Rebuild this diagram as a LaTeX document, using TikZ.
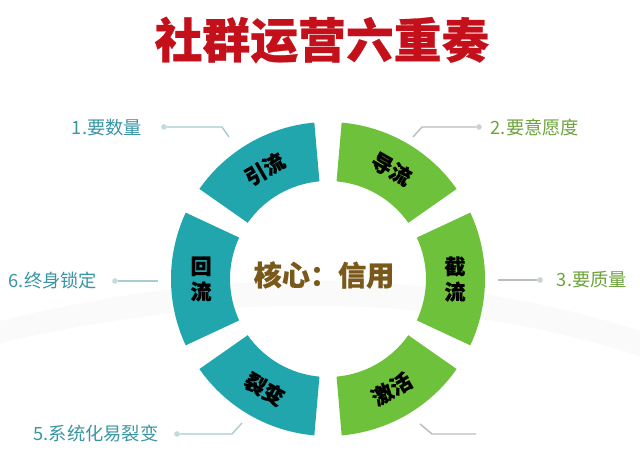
\documentclass[tikz,border=0pt]{standalone}
\usepackage{fontspec}
\setmainfont{Noto Sans CJK SC}[BoldFeatures={FakeBold=0.6}]
\usetikzlibrary{calc}
\definecolor{segteal}{RGB}{34,166,174}
\definecolor{seggreen}{RGB}{110,193,58}
\definecolor{titlered}{RGB}{196,16,26}
\definecolor{corebrown}{RGB}{122,88,26}
\definecolor{tealtxt}{RGB}{58,150,164}
\definecolor{greentxt}{RGB}{110,164,60}
\definecolor{leadteal}{RGB}{168,204,208}
\definecolor{leadgray}{RGB}{184,190,190}
\tikzset{
 segtext/.style={font=\fontsize{15}{18}\selectfont\bfseries, text=black, inner sep=0},
 tag/.style={font=\fontsize{13}{15}\selectfont, inner sep=0},
 lead/.style={line width=1pt},
 dot/.style={circle, inner sep=0, minimum size=4pt, fill=#1!70!white}
}
\begin{document}
\begin{tikzpicture}[x=0.025cm,y=0.025cm]
\useasboundingbox (0,0) rectangle (640,461);
\fill[white] (0,0) rectangle (640,461);
\fill[black!2] (0,140) .. controls (200,190) and (420,200) .. (640,130) -- (640,105) .. controls (420,175) and (200,165) .. (0,118) -- cycle;
\coordinate (O) at (328,182);
\node[font=\fontsize{34}{40}\selectfont\bfseries, text=titlered] (title) at (322,421) {社群运营六重奏};
% ring
\foreach \a/\c in {120/segteal,180/segteal,240/segteal,60/seggreen,0/seggreen,300/seggreen} {
 \fill[\c] ($(O)+(\a-25:98)$) arc[start angle=\a-25, end angle=\a+25, radius=98]
  -- ($(O)+(\a+25:157)$) arc[start angle=\a+25, end angle=\a-25, radius=157] -- cycle;
}
\foreach \a/\r/\t in {120/30/引流,60/-30/导流,240/-30/裂变,300/30/激活}
 \node[segtext, rotate=\r] (s\a) at ($(O)+(\a:127)$) {\t};
\node[segtext, align=center] (s180) at ($(O)+(180:127)$) {回\\流};
\node[segtext, align=center] (s0) at ($(O)+(0:127)$) {截\\流};
\node[font=\fontsize{20}{24}\selectfont\bfseries, text=corebrown] (core) at (324,186) {核心：信用};
% tags
\node[tag, text=tealtxt] (t1) at (107,333) {1.要数量};
\node[tag, text=greentxt] (t2) at (535,333) {2.要意愿度};
\node[tag, text=greentxt] (t3) at (592,181) {3.要质量};
\node[tag, text=tealtxt] (t5) at (96,27) {5.系统化易裂变};
\node[tag, text=tealtxt] (t6) at (53,180) {6.终身锁定};
\node[dot=leadteal] (d1) at (164,334) {};
\node[dot=leadgray] (d2) at (479,334) {};
\node[dot=leadgray] (d3) at (540,181) {};
\node[dot=leadteal] (d5) at (177,27) {};
\node[dot=leadteal] (d6) at (115,180) {};
\coordinate (e1) at (229,324); \coordinate (k1) at (222,334);
\coordinate (e2) at (413,324); \coordinate (k2) at (422,334);
\coordinate (e3) at (498,181);
\coordinate (e4) at (420,37);  \coordinate (k4) at (432,27); \coordinate (f4) at (476,27);
\coordinate (e5) at (242,38);  \coordinate (k5) at (232,27);
\coordinate (e6) at (158,180);
\draw[lead, leadteal] (d1) -- (k1) -- (e1);
\draw[lead, leadgray] (d2) -- (k2) -- (e2);
\draw[lead, leadgray] (d3) -- (e3);
\draw[lead, leadgray] (e4) -- (k4) -- (f4);
\draw[lead, leadteal] (d5) -- (k5) -- (e5);
\draw[lead, leadteal] (d6) -- (e6);
\end{tikzpicture}
\end{document}
